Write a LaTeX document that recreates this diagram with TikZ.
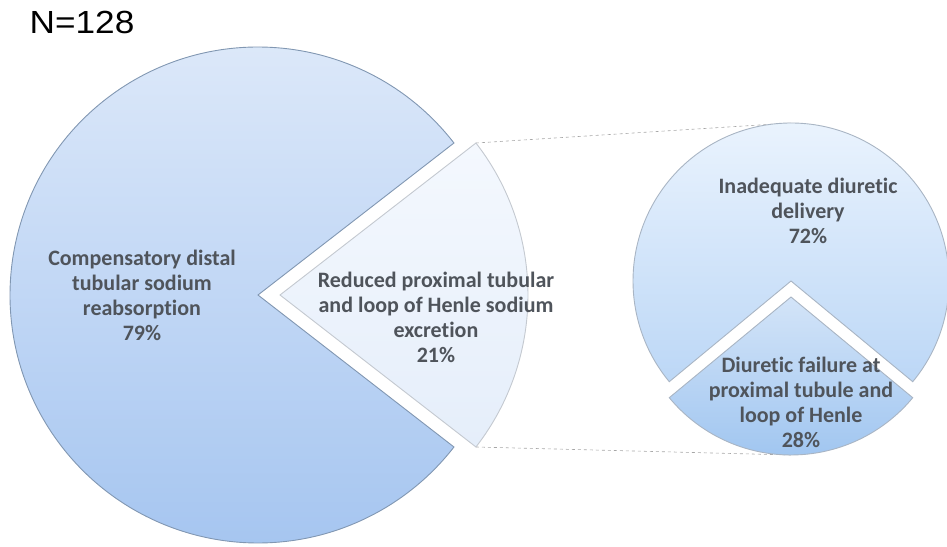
\documentclass[tikz,border=0pt]{standalone}
\usepackage{fontspec}
\setmainfont{Carlito}[Ligatures={NoCommon}]
\newfontfamily\arialfont{Liberation Sans}
\definecolor{labeltext}{HTML}{4F545B}
\definecolor{mainline}{HTML}{8197B2}
\definecolor{paleline}{HTML}{C4C9D0}
\definecolor{secline}{HTML}{A9B5C4}

\begin{document}
\begin{tikzpicture}[x=1pt,y=1pt,
  slice/.style={line width=0.9pt},
  piece label/.style={align=center,inner sep=0pt,text=labeltext,
    font=\bfseries\fontsize{22}{25}\selectfont},
  series line/.style={draw=gray!70,dashed,line width=0.6pt}]
\useasboundingbox (0,0) rectangle (947,546);

% centres of the pies
\coordinate (mc) at (258,251);
\coordinate (ec) at (280,251);
\coordinate (sc) at (791,265);
\coordinate (fc) at (791,249);

% ends of the series lines
\coordinate (et) at ([shift={(37.8:248)}]ec);
\coordinate (eb) at ([shift={(-37.8:248)}]ec);
\coordinate (st) at ([shift={(0,158)}]sc);
\coordinate (sb) at ([shift={(0,-158)}]fc);

\draw[series line] (et) -- (st);
\draw[series line] (eb) -- (sb);

% main pie
\path[slice,draw=mainline,top color={rgb,255:red,223;green,234;blue,250},
  bottom color={rgb,255:red,165;green,197;blue,240}]
  (mc) -- ++(37.8:248) arc[start angle=37.8,end angle=322.2,radius=248] -- cycle;
\path[slice,draw=paleline,top color={rgb,255:red,244;green,248;blue,254},
  bottom color={rgb,255:red,229;green,238;blue,250}]
  (ec) -- (eb) arc[start angle=-37.8,end angle=37.8,radius=248] -- cycle;

% second pie
\path[slice,draw=secline,top color={rgb,255:red,237;green,245;blue,254},
  bottom color={rgb,255:red,188;green,215;blue,246}]
  (sc) -- ++(-39.6:158) arc[start angle=-39.6,end angle=219.6,radius=158] -- cycle;
\path[slice,draw=secline,top color={rgb,255:red,211;green,228;blue,248},
  bottom color={rgb,255:red,159;green,197;blue,240}]
  (fc) -- ++(219.6:158) arc[start angle=219.6,end angle=320.4,radius=158] -- cycle;

\node[piece label] (distal) at (142,251) {Compensatory distal\\tubular sodium\\reabsorption\\79\%};
\node[piece label] (proximal) at (436,229) {Reduced proximal tubular\\and loop of Henle sodium\\excretion\\21\%};
\node[piece label] (delivery) at (808,335) {Inadequate diuretic\\delivery\\72\%};
\node[piece label] (failure) at (801,144) {Diuretic failure at\\proximal tubule and\\loop of Henle\\28\%};

\node[inner sep=0pt,xscale=1.1,font=\arialfont\fontsize{32}{36}\selectfont] (total) at (82,524) {N=128};
\end{tikzpicture}
\end{document}
